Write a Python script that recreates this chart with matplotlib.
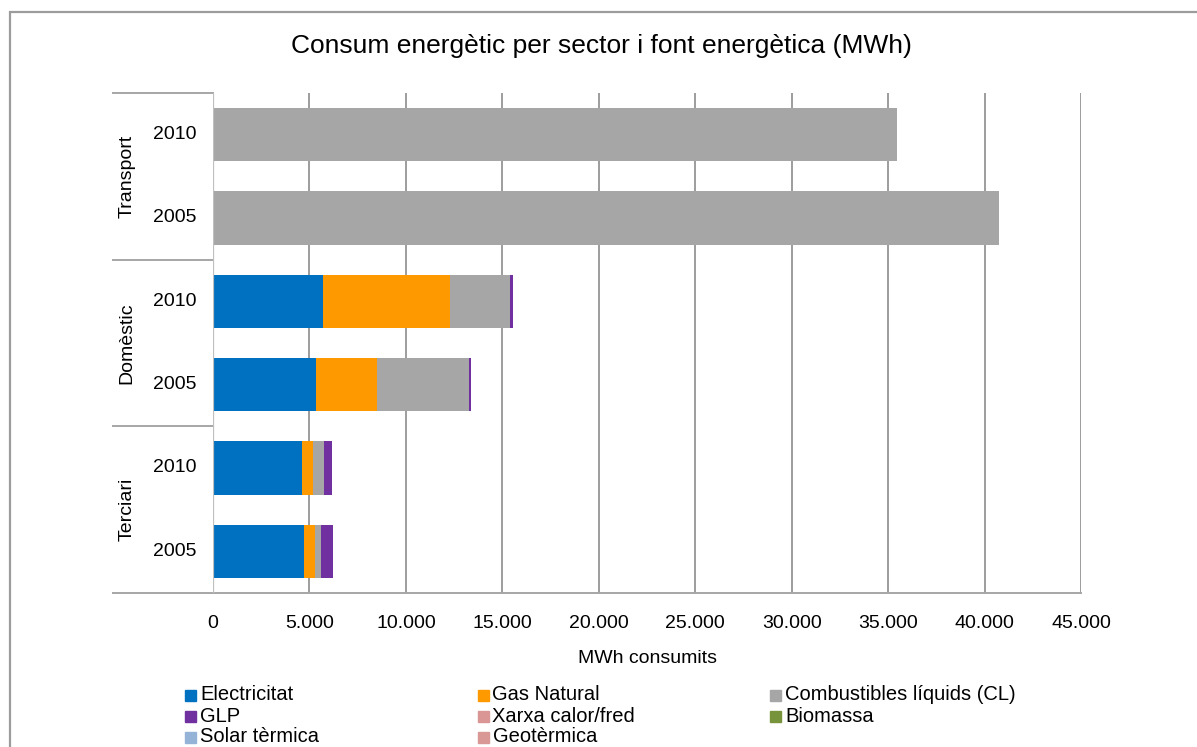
import matplotlib
matplotlib.use("Agg")
import matplotlib.pyplot as plt
import matplotlib.patches as mpatches
import matplotlib.transforms as mtransforms
import numpy as np

plt.rcParams['font.family'] = ['Liberation Sans', 'DejaVu Sans']

# rows from bottom to top
sectors = ["Terciari", "Domèstic", "Transport"]
years = ["2005", "2010"]

fonts = ["Electricitat", "Gas Natural", "Combustibles líquids (CL)", "GLP",
         "Xarxa calor/fred", "Biomassa", "Solar tèrmica", "Geotèrmica"]
colors = ["#0070C0", "#FF9900", "#A6A6A6", "#7030A0",
          "#D99694", "#77933C", "#95B3D7", "#D99795"]

# MWh per row: Terciari 2005, Terciari 2010, Domèstic 2005, Domèstic 2010, Transport 2005, Transport 2010
electricitat = [4720, 4600, 5350, 5720, 0, 0]
gas_natural = [570, 600, 3150, 6580, 0, 0]
combustibles = [310, 540, 4750, 3110, 40740, 35450]
glp = [620, 450, 130, 140, 0, 0]
xarxa = [0, 0, 0, 0, 0, 0]
biomassa = [0, 0, 0, 0, 0, 0]
solar = [0, 0, 0, 0, 0, 0]
geotermica = [0, 0, 0, 0, 0, 0]
series = [electricitat, gas_natural, combustibles, glp, xarxa, biomassa, solar, geotermica]

xticks = np.arange(0, 45001, 5000)
xticklabels = ["0" if v == 0 else f"{v:,}".replace(",", ".") for v in xticks]

W, H = 1197, 747
fig = plt.figure(figsize=(W / 100, H / 100), dpi=100)
ax = fig.add_axes([213 / W, 1 - 593 / H, 868 / W, 500 / H])

pos = np.arange(len(sectors) * len(years))
left = np.zeros(len(pos))
for vals, col in zip(series, colors):
    ax.barh(pos, vals, left=left, height=0.64, color=col, zorder=3)
    left += np.array(vals)

ax.set_xlim(0, 45000)
ax.set_ylim(-0.5, len(pos) - 0.5)
ax.set_xticks(xticks)
ax.set_xticklabels(xticklabels, fontsize=14)
ax.tick_params(axis="x", length=0, pad=16)
ax.set_yticks([])
ax.xaxis.grid(True, color="#8C8C8C", linewidth=1.2, zorder=0)
for s in ax.spines.values():
    s.set_visible(False)
ax.axvline(0, color="#BFBFBF", linewidth=1.6, zorder=4)
ax.set_xlabel("MWh consumits", fontsize=14, labelpad=13)

# category labels and group separators
trans = mtransforms.blended_transform_factory(ax.transAxes, ax.transData)
x_year = (175 - 213) / 868
x_sector = (127 - 213) / 868
x_edge = (113 - 213) / 868
for p in pos:
    ax.text(x_year, p, years[p % 2], transform=trans, ha="center", va="center",
            fontsize=14)
for k, name in enumerate(sectors):
    ax.text(x_sector, 2 * k + 0.5, name, transform=trans, ha="center", va="center",
            rotation=90, fontsize=14)
for y in [1.5, 3.5, 5.5]:
    ax.plot([x_edge, 0], [y, y], transform=trans, color="#A6A6A6", linewidth=1.4,
            clip_on=False)
ax.plot([x_edge, 1], [-0.5, -0.5], transform=trans, color="#A6A6A6", linewidth=1.4,
        clip_on=False)

fig.text(601 / W, 1 - 46 / H, "Consum energètic per sector i font energètica (MWh)",
         ha="center", va="center", fontsize=19)

# legend, three columns filled row by row
for i, (name, col) in enumerate(zip(fonts, colors)):
    c, r = i % 3, i // 3
    x0 = 185 + c * 292.5
    yc = 695 + r * 21
    fig.patches.append(mpatches.Rectangle((x0 / W, 1 - (yc + 5.5) / H), 11 / W, 11 / H,
                                          transform=fig.transFigure, color=col))
    fig.text((x0 + 15) / W, 1 - yc / H, name, ha="left", va="center", fontsize=14.5)

# chart frame
fig.patches.append(mpatches.Rectangle((10 / W, -0.1), 1.2, 1.1 - 12 / H,
                                      transform=fig.transFigure, fill=False,
                                      edgecolor="#9C9C9C", linewidth=1.6))

fig.savefig("out.png", dpi=100)
